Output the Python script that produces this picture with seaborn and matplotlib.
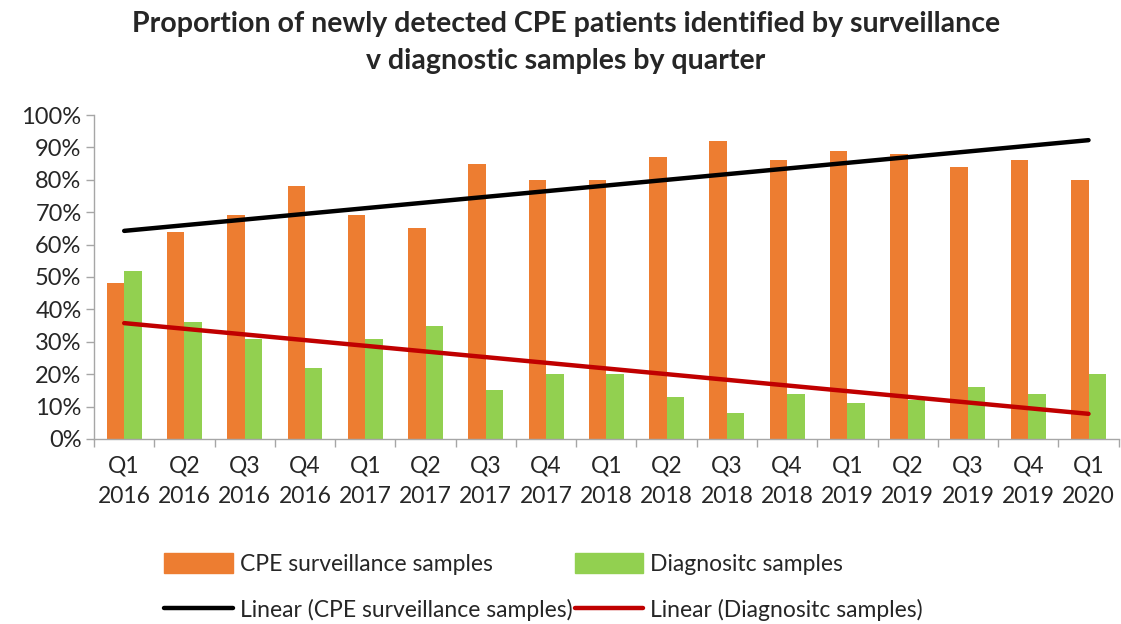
import numpy as np
import pandas as pd
import matplotlib
matplotlib.use("Agg")
import matplotlib.pyplot as plt
import seaborn as sns
from matplotlib.ticker import FixedLocator, FuncFormatter
from matplotlib.lines import Line2D
from matplotlib.patches import Patch

quarters = ["Q1\n2016", "Q2\n2016", "Q3\n2016", "Q4\n2016",
            "Q1\n2017", "Q2\n2017", "Q3\n2017", "Q4\n2017",
            "Q1\n2018", "Q2\n2018", "Q3\n2018", "Q4\n2018",
            "Q1\n2019", "Q2\n2019", "Q3\n2019", "Q4\n2019",
            "Q1\n2020"]
surveillance = [48, 64, 69, 78, 69, 65, 85, 80, 80, 87, 92, 86, 89, 88, 84, 86, 80]
diagnostic = [52, 36, 31, 22, 31, 35, 15, 20, 20, 13, 8, 14, 11, 12, 16, 14, 20]
series_names = ["CPE surveillance samples", "Diagnositc samples"]
yticks = [0, 10, 20, 30, 40, 50, 60, 70, 80, 90, 100]

c_orange = "#ED7D31"
c_green = "#92D050"
c_black = "#000000"
c_red = "#C00000"

sns.set_theme(style="white")
plt.rcParams["font.family"] = ["Lato", "DejaVu Sans"]

df = pd.DataFrame({
    "quarter": quarters * 2,
    "value": surveillance + diagnostic,
    "series": [series_names[0]] * len(quarters) + [series_names[1]] * len(quarters),
})

fig = plt.figure(figsize=(11.21, 6.24), dpi=100)
ax = fig.add_axes([0.0839, 0.2965, 0.914, 0.5192])

sns.barplot(data=df, x="quarter", y="value", hue="series",
            palette=[c_orange, c_green], width=0.58, ax=ax,
            legend=False, saturation=1, linewidth=0)

idx = np.arange(len(quarters))
fit_s = np.polyval(np.polyfit(idx, surveillance, 1), idx)
fit_d = np.polyval(np.polyfit(idx, diagnostic, 1), idx)
sns.lineplot(x=idx, y=fit_s, color=c_black, linewidth=3.2, ax=ax,
             solid_capstyle="round")
sns.lineplot(x=idx, y=fit_d, color=c_red, linewidth=3.2, ax=ax,
             solid_capstyle="round")

ax.set_xlim(-0.5, len(quarters) - 0.5)
ax.set_ylim(0, 100)
ax.set_yticks(yticks)
ax.yaxis.set_major_formatter(FuncFormatter(lambda v, p: f"{int(v)}%"))
ax.xaxis.set_major_locator(FixedLocator(np.arange(-0.5, len(quarters), 1.0)))
ax.xaxis.set_major_formatter(FuncFormatter(lambda v, p: ""))
ax.xaxis.set_minor_locator(FixedLocator(idx))
ax.set_xticklabels(quarters, minor=True)
ax.tick_params(axis="x", which="major", length=6, color="#A6A6A6", width=1, direction="out", bottom=True)
ax.tick_params(axis="x", which="minor", length=0, labelsize=16.5, pad=12, bottom=True)
ax.tick_params(axis="y", length=6, color="#A6A6A6", width=1, direction="out", labelsize=17, pad=3, left=True)
for lab in ax.get_xticklabels(minor=True):
    lab.set_linespacing(1.55)
ax.set_xlabel("")
ax.set_ylabel("")
for s in ["top", "right"]:
    ax.spines[s].set_visible(False)
for s in ["left", "bottom"]:
    ax.spines[s].set_color("#A6A6A6")
    ax.spines[s].set_linewidth(1)

fig.suptitle("Proportion of newly detected CPE patients identified by surveillance\nv diagnostic samples by quarter",
             x=0.505, y=0.982, fontsize=20.5, fontweight="bold", linespacing=1.5)

handles = [Patch(color=c_orange), Line2D([], [], color=c_black, linewidth=3.2),
           Patch(color=c_green), Line2D([], [], color=c_red, linewidth=3.2)]
labels = [series_names[0], "Linear (" + series_names[0] + ")",
          series_names[1], "Linear (" + series_names[1] + ")"]
fig.legend(handles, labels, ncol=2, loc="lower left", bbox_to_anchor=(0.128, -0.028),
           frameon=False, fontsize=16.5, handlelength=3.0, handletextpad=0.3,
           columnspacing=0.1, labelspacing=1.05, handleheight=1.0)

fig.savefig("out.png", dpi=100)
